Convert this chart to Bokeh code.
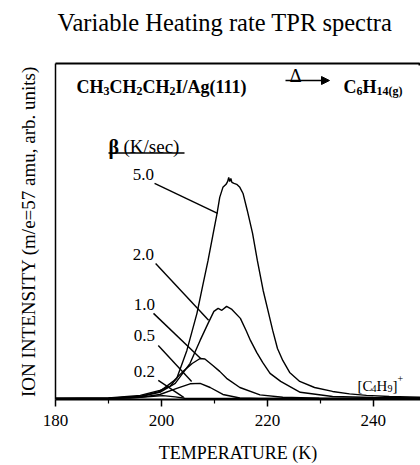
from bokeh.plotting import figure
from bokeh.models import Range1d, FixedTicker, Label, Arrow, NormalHead, Title
from bokeh.embed import file_html
from bokeh.resources import INLINE

# m/e = 57 TPR traces for CH3CH2CH2I/Ag(111), one per heating rate (K/s).
# Temperature in K, ion intensity in arbitrary units.
rates = ["5.0", "2.0", "1.0", "0.5", "0.2"]

t_50 = [180.0, 190.0, 196.0, 199.7, 201.6, 202.9, 204.8, 206.7, 207.8, 208.8,
        209.7, 210.5, 211.0, 211.6, 212.2, 212.5, 212.7, 212.9, 213.1, 213.3,
        213.7, 214.2, 214.8, 215.4, 216.2, 217.2, 218.1, 219.2, 220.1, 221.0,
        221.9, 222.9, 224.2, 226.1, 228.9, 232.3, 235.5, 238.7, 243.0, 248.9]
i_50 = [0.0, 0.2, 1.4, 3.7, 5.5, 9.2, 22.0, 39.0, 51.8, 63.3,
        74.8, 84.9, 92.2, 96.8, 98.2, 99.5, 101.4, 99.5, 100.9, 99.1,
        98.6, 98.2, 96.8, 94.0, 86.2, 75.7, 63.3, 49.5, 40.4, 31.2,
        22.9, 17.4, 11.9, 7.8, 5.0, 3.2, 2.1, 1.4, 0.9, 0.5]

t_20 = [180.0, 190.0, 196.0, 199.7, 202.6, 205.4, 207.3, 208.8, 209.9, 210.7,
        211.4, 212.3, 213.3, 214.9, 216.0, 216.8, 218.0, 219.1, 220.5, 222.5,
        226.2, 232.3, 240.0, 248.9]
i_20 = [0.0, 0.0, 0.9, 2.8, 6.9, 16.1, 26.6, 34.4, 39.9, 41.3,
        40.4, 42.2, 40.8, 36.7, 31.0, 26.6, 21.0, 16.5, 11.5, 7.8,
        2.8, 0.9, 0.4, 0.2]

t_10 = [180.0, 190.0, 196.0, 199.7, 202.2, 204.1, 205.8, 207.3, 208.2, 209.7,
        211.0, 212.3, 214.8, 218.6, 222.9, 229.8, 248.9]
i_10 = [0.0, 0.1, 0.9, 3.2, 7.8, 12.4, 16.0, 18.3, 18.1, 15.1,
        12.4, 9.2, 5.0, 1.6, 0.5, 0.1, 0.0]

t_05 = [180.0, 190.0, 196.0, 199.7, 202.9, 205.4, 207.3, 209.2, 211.6, 214.8,
        218.5, 248.9]
i_05 = [0.0, 0.0, 0.5, 1.8, 4.6, 6.7, 6.9, 5.0, 1.8, 0.2,
        0.0, 0.0]

t_02 = [180.0, 190.0, 194.1, 197.9, 200.3, 202.6, 204.4, 208.0, 248.9]
i_02 = [0.0, 0.0, 0.2, 0.9, 1.3, 0.7, 0.1, 0.0, 0.0]

x_ticks = [180, 200, 220, 240]
x_minor = [190, 210, 230]

SERIF = "Liberation Serif"
X_END, Y_END = 248.9, 153.6

p = figure(width=420, height=465, title=None,
           x_range=Range1d(180, X_END), y_range=Range1d(-0.5, Y_END),
           output_backend="svg", toolbar_location=None,
           min_border_left=55, min_border_right=0,
           min_border_top=63, min_border_bottom=66)
p.xgrid.grid_line_color = None
p.ygrid.grid_line_color = None
p.background_fill_color = "white"
p.border_fill_color = "white"

# frame outline stroked only along its top edge (the rect path starts top-left)
p.outline_line_color = "black"
p.outline_line_width = 2
p.outline_line_dash = "366 3000"

# title block: a thin spacer next to the frame, the heading above it
p.add_layout(Title(text=" ", text_font_size="2px", standoff=19), "above")
p.add_layout(Title(text="Variable Heating rate TPR spectra", text_font=SERIF,
                   text_font_size="24.5px", text_font_style="normal",
                   text_color="black", align="left", offset=2, standoff=10), "above")

# traces
for t, i in [(t_50, i_50), (t_20, i_20), (t_10, i_10), (t_05, i_05), (t_02, i_02)]:
    p.line(t, i, line_color="black", line_width=1.4)

# leader lines from each rate label to its trace (T, intensity)
lead_x0 = [198.7, 198.9, 198.5, 199.4, 199.4]
lead_y0 = [98.6, 61.9, 39.0, 24.3, 8.3]
lead_x1 = [210.6, 208.9, 207.4, 205.7, 204.2]
lead_y1 = [84.9, 35.8, 18.3, 7.8, 0.5]
p.segment(lead_x0, lead_y0, lead_x1, lead_y1, line_color="black", line_width=1.4)

lab_x = [196.6, 196.6, 196.8, 196.8, 196.8]
lab_y = [102.8, 66.1, 43.1, 28.9, 12.4]
for txt, lx, ly in zip(rates, lab_x, lab_y):
    p.add_layout(Label(x=lx, y=ly, text=txt, text_font=SERIF, text_font_size="17px",
                       text_align="center", text_baseline="middle", text_color="black"))

# axes
xa = p.xaxis[0]
xa.ticker = FixedTicker(ticks=x_ticks, minor_ticks=x_minor)
xa.axis_line_width = 2
xa.major_tick_out = 7
xa.major_tick_in = 0
xa.minor_tick_out = 4
xa.minor_tick_in = 0
xa.major_tick_line_width = 1.5
xa.minor_tick_line_width = 1.2
xa.major_label_text_font = SERIF
xa.major_label_text_font_size = "17px"
xa.major_label_text_color = "black"
xa.major_label_standoff = 8
xa.axis_label = "TEMPERATURE (K)"
xa.axis_label_text_font = SERIF
xa.axis_label_text_font_size = "18px"
xa.axis_label_text_font_style = "normal"
xa.axis_label_text_color = "black"
xa.axis_label_standoff = 14

ya = p.yaxis[0]
ya.ticker = FixedTicker(ticks=[])
ya.axis_line_width = 1.5
ya.major_tick_out = 0
ya.minor_tick_out = 0
ya.major_label_text_font_size = "0px"
ya.axis_label = "ION INTENSITY (m/e=57 amu, arb. units)"
ya.axis_label_text_font = SERIF
ya.axis_label_text_font_size = "19px"
ya.axis_label_text_font_style = "normal"
ya.axis_label_text_color = "black"
ya.axis_label_standoff = 17

# canvas pixel -> screen units relative to the frame (left 55, bottom 399)
FL, FB = 55, 399


def sx(cx):
    return cx - FL


def sy(cy):
    return FB - cy


def rule(x0, y0, x1, y1, width):
    p.add_layout(Arrow(x_start=sx(x0), y_start=sy(y0), x_end=sx(x1), y_end=sy(y1),
                       start_units="screen", end_units="screen", line_width=width,
                       line_color="black", start=None, end=None))


def put(text, cx, cy, size, style="normal", align="left"):
    p.add_layout(Label(x=sx(cx), y=sy(cy), x_units="screen", y_units="screen",
                       text=text, text_font=SERIF, text_font_size=size,
                       text_font_style=style, text_align=align,
                       text_baseline="alphabetic", text_color="black"))


# reaction scheme
put("CH", 76, 86, "18px", "bold")
put("3", 103, 90, "12px", "bold")
put("CH", 109, 86, "18px", "bold")
put("2", 136, 90, "12px", "bold")
put("CH", 142, 86, "18px", "bold")
put("2", 169, 90, "12px", "bold")
put("I/Ag(111)", 175, 86, "18px", "bold")
p.add_layout(Arrow(x_start=sx(285), y_start=sy(80), x_end=sx(329), y_end=sy(80),
                   start_units="screen", end_units="screen", line_width=1.3,
                   end=NormalHead(size=8, fill_color="black", line_color="black")))
put("Δ", 295, 75, "19px", align="center")
put("C", 343, 86, "18px", "bold")
put("6", 356, 90, "12px", "bold")
put("H", 362, 86, "18px", "bold")
put("14(g)", 376, 90, "12px", "bold")

# heating-rate column header
put("β", 108, 146, "20px", "bold")
put("(K/sec)", 123, 146, "19px")
rule(108, 152.5, 184, 152.5, 1.5)

# fragment ion
put("[C", 357, 385, "15px")
put("4", 371, 388, "10px")
put("H", 376, 385, "15px")
put("9", 387, 388, "10px")
put("]", 392, 385, "15px")
put("+", 397, 378, "10px")

open("out.html", "w").write(file_html(p, INLINE))
